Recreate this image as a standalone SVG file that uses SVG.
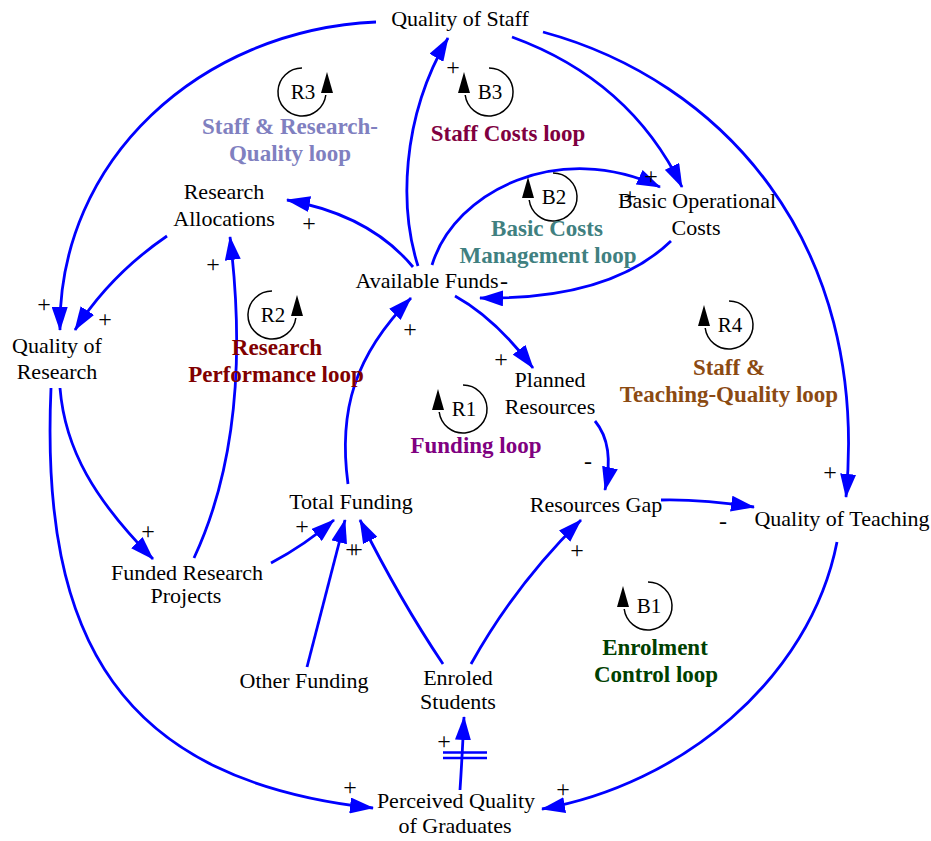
<svg xmlns="http://www.w3.org/2000/svg" xmlns:xlink="http://www.w3.org/1999/xlink" width="931" height="841" viewBox="0 0 931 841">
<style>
text{font-family:"Liberation Serif","Times New Roman",serif;text-anchor:middle}
.n{font-size:22px;fill:#000}
.p{font-size:24px;fill:#000}
.m{font-size:21px;fill:#000}
.l{font-size:23px;font-weight:bold}
.c{fill:none;stroke:#0000ff;stroke-width:2.8;marker-end:url(#ah)}
.d{fill:none;stroke:#0000ff;stroke-width:2.5}
.la{fill:none;stroke:#000;stroke-width:1.5}
</style>
<defs>
<marker id="ah" viewBox="0 0 24 16" markerWidth="24" markerHeight="16" refX="23" refY="8" orient="auto" markerUnits="userSpaceOnUse">
<path d="M0,0 L24,8 L0,16 z" fill="#0000ff"/>
</marker>
<g id="loopR"><path class="la" d="M0,-24 A24,24 0 1,0 23.8,3"/><polygon points="19,1 31,1 25,-20" fill="#000"/></g>
<g id="loopL"><path class="la" d="M0,-24 A24,24 0 1,1 -23.8,3"/><polygon points="-19,1 -31,1 -25,-20" fill="#000"/></g>
</defs>
<rect width="931" height="841" fill="#fff"/>

<g id="connectors">
<path class="c" d="M376,22 C200,30 58,160 60,330"/>
<path class="c" d="M167,236 Q110,275 75,330"/>
<path class="c" d="M413,267 Q370,215 287,200"/>
<path class="c" d="M418,266 C400,210 400,120 448,38"/>
<path class="c" d="M432,265 C455,190 560,140 660,187"/>
<path class="c" d="M512,37 Q630,80 682,187"/>
<path class="c" d="M671,241 Q610,300 480,298"/>
<path class="c" d="M455,296 Q495,318 533,368"/>
<path class="c" d="M595,421 Q615,445 605,490"/>
<path class="c" d="M661,500 Q700,499 754,507"/>
<path class="c" d="M543,32 C720,80 870,240 846,497"/>
<path class="c" d="M60,388 C65,450 95,500 153,559"/>
<path class="c" d="M51,388 C40,640 120,780 373,808"/>
<path class="c" d="M194,558 C235,470 245,360 230,237"/>
<path class="c" d="M271,563 Q305,545 334,520"/>
<path class="c" d="M348,484 C338,410 355,355 411,298"/>
<path class="c" d="M307,667 L345,520"/>
<path class="c" d="M443,664 Q400,600 360,520"/>
<path class="c" d="M471,664 Q515,585 581,520"/>
<path class="c" d="M460,790 Q462,760 464,717"/>
<path class="d" d="M443,752.5 H487 M443,758 H487"/>
<path class="c" d="M837,542 C810,680 680,785 542,809"/>
</g>

<g id="polarities">
<text class="p" x="453" y="75">+</text>
<text class="p" x="44" y="312">+</text>
<text class="p" x="105" y="327">+</text>
<text class="p" x="309" y="231">+</text>
<text class="p" x="213" y="272">+</text>
<text class="p" x="410" y="337">+</text>
<text class="p" x="651" y="184">+</text>
<text class="p" x="630" y="204">+</text>
<text class="p" x="504" y="289">-</text>
<text class="p" x="501" y="367">+</text>
<text class="p" x="588" y="469">-</text>
<text class="p" x="723" y="529">-</text>
<text class="p" x="830" y="480">+</text>
<text class="p" x="148" y="539">+</text>
<text class="p" x="302" y="534">+</text>
<text class="p" x="352" y="557">+</text>
<text class="p" x="356" y="557">+</text>
<text class="p" x="577" y="558">+</text>
<text class="p" x="444" y="749">+</text>
<text class="p" x="350" y="795">+</text>
<text class="p" x="563" y="797">+</text>
</g>

<g id="quality-of-staff"><text class="n" x="460" y="26">Quality of Staff</text></g>
<g id="research-allocations"><text class="n" x="224" y="199">Research</text><text class="n" x="224" y="226">Allocations</text></g>
<g id="available-funds"><text class="n" x="427" y="288">Available Funds</text></g>
<g id="basic-operational-costs"><text class="n" x="697" y="208">Basic Operational</text><text class="n" x="696" y="235">Costs</text></g>
<g id="quality-of-research"><text class="n" x="57" y="353">Quality of</text><text class="n" x="57" y="379">Research</text></g>
<g id="planned-resources"><text class="n" x="550" y="387">Planned</text><text class="n" x="550" y="414">Resources</text></g>
<g id="total-funding"><text class="n" x="351" y="509">Total Funding</text></g>
<g id="resources-gap"><text class="n" x="596" y="512">Resources Gap</text></g>
<g id="quality-of-teaching"><text class="n" x="842" y="526">Quality of Teaching</text></g>
<g id="funded-research-projects"><text class="n" x="187" y="580">Funded Research</text><text class="n" x="186" y="603">Projects</text></g>
<g id="other-funding"><text class="n" x="304" y="688">Other Funding</text></g>
<g id="enroled-students"><text class="n" x="458" y="685">Enroled</text><text class="n" x="458" y="709">Students</text></g>
<g id="perceived-quality-of-graduates"><text class="n" x="456" y="808">Perceived Quality</text><text class="n" x="455" y="833">of Graduates</text></g>

<g id="loop-R3"><use xlink:href="#loopR" href="#loopR" x="302" y="92"/><text class="m" x="303" y="99">R3</text>
<text class="l" fill="#8080c0" x="290" y="134">Staff &amp; Research-</text><text class="l" fill="#8080c0" x="290" y="161">Quality loop</text></g>
<g id="loop-B3"><use xlink:href="#loopL" href="#loopL" x="489" y="92"/><text class="m" x="490" y="99">B3</text>
<text class="l" fill="#800040" x="508" y="141">Staff Costs loop</text></g>
<g id="loop-B2"><use xlink:href="#loopL" href="#loopL" x="553" y="197"/><text class="m" x="554" y="204">B2</text>
<text class="l" fill="#408080" x="547" y="236">Basic Costs</text><text class="l" fill="#408080" x="548" y="263">Management loop</text></g>
<g id="loop-R2"><use xlink:href="#loopR" href="#loopR" x="272" y="315"/><text class="m" x="273" y="322">R2</text>
<text class="l" fill="#800000" x="277" y="355">Research</text><text class="l" fill="#800000" x="276" y="382">Performance loop</text></g>
<g id="loop-R1"><use xlink:href="#loopL" href="#loopL" x="463" y="409"/><text class="m" x="464" y="416">R1</text>
<text class="l" fill="#800080" x="476" y="453">Funding loop</text></g>
<g id="loop-R4"><use xlink:href="#loopL" href="#loopL" x="729" y="325"/><text class="m" x="730" y="332">R4</text>
<text class="l" fill="#8b4a12" x="729" y="375">Staff &amp;</text><text class="l" fill="#8b4a12" x="729" y="402">Teaching-Quality loop</text></g>
<g id="loop-B1"><use xlink:href="#loopL" href="#loopL" x="648" y="606"/><text class="m" x="649" y="613">B1</text>
<text class="l" fill="#004000" x="655" y="655">Enrolment</text><text class="l" fill="#004000" x="656" y="682">Control loop</text></g>
</svg>
